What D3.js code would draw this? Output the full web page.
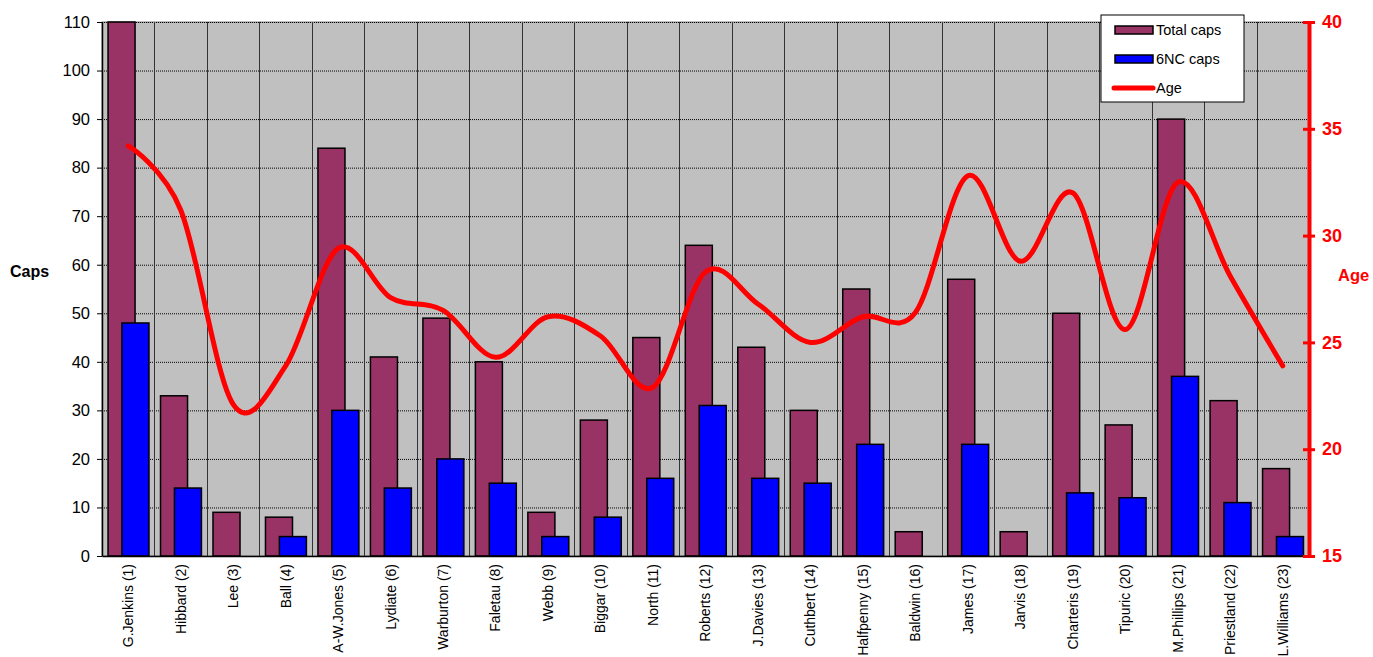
<!DOCTYPE html>
<html>
<head>
<meta charset="utf-8">
<script src="https://cdn.jsdelivr.net/npm/d3@7"></script>
<style>
  body { margin: 0; background: #fff; }
  svg { display: block; font-family: 'Liberation Sans', Arial, sans-serif; }
</style>
</head>
<body>
<div class="container"></div>
<script>
const players = [
  'G.Jenkins (1)', 'Hibbard (2)', 'Lee (3)', 'Ball (4)', 'A-W.Jones (5)', 'Lydiate (6)',
  'Warburton (7)', 'Faletau (8)', 'Webb (9)', 'Biggar (10)', 'North (11)', 'Roberts (12)',
  'J.Davies (13)', 'Cuthbert (14)', 'Halfpenny (15)', 'Baldwin (16)', 'James (17)',
  'Jarvis (18)', 'Charteris (19)', 'Tipuric (20)', 'M.Phillips (21)', 'Priestland (22)',
  'L.Williams (23)'
];
const totalCaps = [110, 33, 9, 8, 84, 41, 49, 40, 9, 28, 45, 64, 43, 30, 55, 5, 57, 5, 50, 27, 90, 32, 18];
const sixNationsCaps = [48, 14, 0, 4, 30, 14, 20, 15, 4, 8, 16, 31, 16, 15, 23, 0, 23, 0, 13, 12, 37, 11, 4];
const ages = [34.2, 31.2, 22.1, 23.9, 29.4, 27.1, 26.5, 24.3, 26.2, 25.3, 22.9, 28.3,
  26.8, 25.0, 26.2, 26.4, 32.8, 28.8, 32.0, 25.6, 32.5, 28.1, 23.9];
const capsTicks = d3.range(0, 111, 10);
const ageTicks = [15, 20, 25, 30, 35, 40];

const width = 1373;
const height = 657;
const margin = { top: 22, right: 64, bottom: 101, left: 102 };

const svg = d3
  .select('.container')
  .append('svg')
  .attr('width', width)
  .attr('height', height);

const x = d3
  .scaleBand()
  .domain(players)
  .range([margin.left, width - margin.right]);

const yCaps = d3
  .scaleLinear()
  .domain([0, 110])
  .range([height - margin.bottom, margin.top]);

const yAge = d3
  .scaleLinear()
  .domain([15, 40])
  .range([height - margin.bottom, margin.top]);

const bw = x.bandwidth();
const barW = bw * 0.515;

// plot background
svg
  .append('rect')
  .attr('x', margin.left)
  .attr('y', margin.top)
  .attr('width', width - margin.left - margin.right)
  .attr('height', height - margin.top - margin.bottom)
  .attr('fill', '#c0c0c0')
  .attr('stroke', '#808080');

// horizontal dotted grid
svg
  .append('g')
  .selectAll('line')
  .data(capsTicks.slice(1))
  .enter()
  .append('line')
  .attr('x1', margin.left)
  .attr('x2', width - margin.right)
  .attr('y1', (d) => yCaps(d) + 0.5)
  .attr('y2', (d) => yCaps(d) + 0.5)
  .attr('stroke', '#000')
  .attr('stroke-width', 1)
  .attr('stroke-dasharray', '1,1');

// vertical grid at category boundaries
svg
  .append('g')
  .selectAll('line')
  .data(players.slice(1))
  .enter()
  .append('line')
  .attr('x1', (d) => Math.round(x(d)) + 0.5)
  .attr('x2', (d) => Math.round(x(d)) + 0.5)
  .attr('y1', margin.top)
  .attr('y2', height - margin.bottom)
  .attr('stroke', '#333')
  .attr('stroke-width', 1);

// total caps bars
svg
  .append('g')
  .selectAll('rect')
  .data(totalCaps)
  .enter()
  .append('rect')
  .attr('x', (d, i) => x(players[i]) + bw * 0.115)
  .attr('y', (d) => yCaps(d))
  .attr('width', barW)
  .attr('height', (d) => yCaps(0) - yCaps(d))
  .attr('fill', '#993366')
  .attr('stroke', '#000')
  .attr('stroke-width', 1.5);

// 6NC caps bars
svg
  .append('g')
  .selectAll('rect')
  .data(sixNationsCaps.map((v, i) => ({ v, i })).filter((d) => d.v > 0))
  .enter()
  .append('rect')
  .attr('x', (d) => x(players[d.i]) + bw * 0.38)
  .attr('y', (d) => yCaps(d.v))
  .attr('width', barW)
  .attr('height', (d) => yCaps(0) - yCaps(d.v))
  .attr('fill', '#0000ff')
  .attr('stroke', '#000')
  .attr('stroke-width', 1.5);

// left axis
const yAxis = d3.axisLeft(yCaps).tickValues(capsTicks).tickSize(5).tickSizeOuter(0);
const gLeft = svg
  .append('g')
  .attr('transform', `translate(${margin.left},0)`)
  .call(yAxis);
gLeft.select('.domain').attr('stroke', '#000').attr('stroke-width', 1.5);
gLeft.selectAll('.tick line').attr('stroke', '#000');
gLeft
  .selectAll('.tick text')
  .attr('x', -12)
  .attr('font-size', '16.5px')
  .attr('font-family', "'Liberation Sans', Arial, sans-serif")
  .attr('fill', '#000');

// bottom axis
const xAxis = d3.axisBottom(x).tickSize(0).tickSizeOuter(0);
const gBottom = svg
  .append('g')
  .attr('transform', `translate(0,${height - margin.bottom})`)
  .call(xAxis);
gBottom.select('.domain').attr('stroke', '#000').attr('stroke-width', 1.5);
gBottom
  .selectAll('.tick text')
  .attr('transform', 'rotate(-90)')
  .attr('text-anchor', 'end')
  .attr('x', -8)
  .attr('y', 0)
  .attr('dy', '0.35em')
  .attr('font-size', '14px')
  .attr('font-family', "'Liberation Sans', Arial, sans-serif")
  .attr('fill', '#000');

// age line
const line = d3
  .line()
  .x((d, i) => x(players[i]) + bw / 2)
  .y((d) => yAge(d))
  .curve(d3.curveCardinal.tension(0));

svg
  .append('path')
  .datum(ages)
  .attr('d', line)
  .attr('fill', 'none')
  .attr('stroke', '#ff0000')
  .attr('stroke-width', 5)
  .attr('stroke-linecap', 'round');

// right axis
const yAxisRight = d3.axisRight(yAge).tickValues(ageTicks).tickSize(5).tickSizeOuter(0);
const gRight = svg
  .append('g')
  .attr('transform', `translate(${width - margin.right},0)`)
  .call(yAxisRight);
gRight.select('.domain').attr('stroke', '#ff0000').attr('stroke-width', 4);
gRight
  .selectAll('.tick line')
  .attr('x1', -6)
  .attr('x2', 6)
  .attr('stroke', '#ff0000')
  .attr('stroke-width', 3);
gRight
  .selectAll('.tick text')
  .attr('x', 13)
  .attr('font-size', '18px')
  .attr('font-weight', 'bold')
  .attr('font-family', "'Liberation Sans', Arial, sans-serif")
  .attr('fill', '#ff0000');

// axis titles
svg
  .append('text')
  .attr('x', 10)
  .attr('y', 277)
  .attr('font-size', '16px')
  .attr('font-weight', 'bold')
  .text('Caps');

svg
  .append('text')
  .attr('x', 1338)
  .attr('y', 281)
  .attr('font-size', '16.5px')
  .attr('font-weight', 'bold')
  .attr('fill', '#ff0000')
  .text('Age');

// legend
const legend = svg.append('g').attr('transform', 'translate(1101,15)');
legend
  .append('rect')
  .attr('width', 143)
  .attr('height', 87)
  .attr('fill', '#fff')
  .attr('stroke', '#000');

const legendItems = [
  { label: 'Total caps', type: 'bar', color: '#993366' },
  { label: '6NC caps', type: 'bar', color: '#0000ff' },
  { label: 'Age', type: 'line', color: '#ff0000' },
];

legendItems.forEach((item, i) => {
  const cy = 15 + i * 29;
  if (item.type === 'bar') {
    legend
      .append('rect')
      .attr('x', 14)
      .attr('y', cy - 4)
      .attr('width', 38)
      .attr('height', 8)
      .attr('fill', item.color)
      .attr('stroke', '#000')
      .attr('stroke-width', 1.5);
  } else {
    legend
      .append('line')
      .attr('x1', 13)
      .attr('x2', 52)
      .attr('y1', cy)
      .attr('y2', cy)
      .attr('stroke', item.color)
      .attr('stroke-width', 5)
      .attr('stroke-linecap', 'round');
  }
  legend
    .append('text')
    .attr('x', 55)
    .attr('y', cy)
    .attr('dy', '0.35em')
    .attr('font-size', '14.5px')
    .text(item.label);
});
</script>
</body>
</html>
